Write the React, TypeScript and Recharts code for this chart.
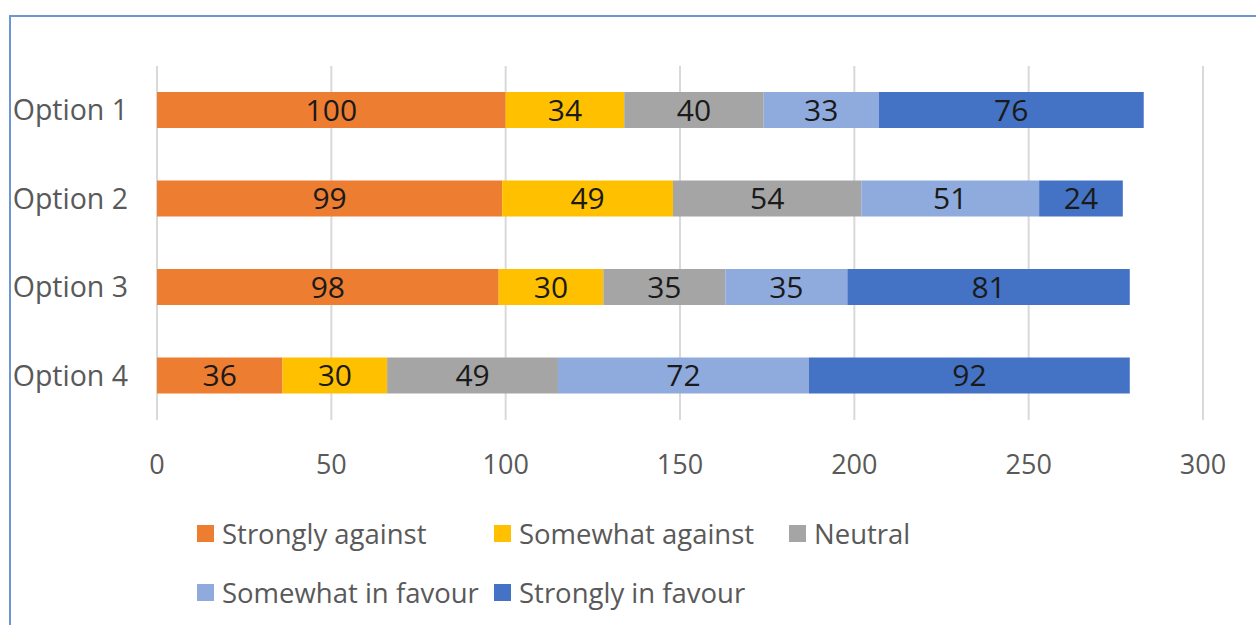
import React from "react";
import { BarChart, Bar, XAxis, YAxis, CartesianGrid, Legend, LabelList } from "recharts";

const categories = ["Option 1", "Option 2", "Option 3", "Option 4"];
const stronglyAgainst = [100, 99, 98, 36];
const somewhatAgainst = [34, 49, 30, 30];
const neutral = [40, 54, 35, 49];
const somewhatInFavour = [33, 51, 35, 72];
const stronglyInFavour = [76, 24, 81, 92];
const xTicks = [0, 50, 100, 150, 200, 250, 300];

const seriesNames = ["Strongly against", "Somewhat against", "Neutral", "Somewhat in favour", "Strongly in favour"];
const seriesKeys = ["sa", "swa", "neu", "swf", "sf"];
const seriesColors = ["#ED7D31", "#FFC000", "#A5A5A5", "#8FAADC", "#4472C4"];

const data = categories.map((c, i) => ({
  name: c,
  sa: stronglyAgainst[i],
  swa: somewhatAgainst[i],
  neu: neutral[i],
  swf: somewhatInFavour[i],
  sf: stronglyInFavour[i],
}));

const FONT = "'Open Sans', sans-serif";

const legendPositions = [
  { left: 197, top: 533 },
  { left: 494, top: 533 },
  { left: 789, top: 533 },
  { left: 197, top: 592 },
  { left: 494, top: 592 },
];

const LegendContent = () => (
  <div style={{ position: "relative", width: 1256, height: 100 }}>
    {seriesNames.map((n, i) => (
      <div
        key={n}
        style={{
          position: "absolute",
          left: legendPositions[i].left,
          top: legendPositions[i].top - 510 - 18,
          height: 36,
          display: "flex",
          alignItems: "center",
          whiteSpace: "nowrap",
          fontFamily: FONT,
          fontSize: 27.5,
          color: "#595959",
        }}
      >
        <span style={{ display: "inline-block", width: 17, height: 17, background: seriesColors[i], marginRight: 8 }} />
        <span>{n}</span>
      </div>
    ))}
  </div>
);

export default function App() {
  return (
    <div style={{ position: "absolute", left: 0, top: 0, width: 1256, height: 625, overflow: "hidden", background: "#fff" }}>
      <div
        style={{
          position: "absolute",
          left: 9,
          top: 15,
          width: 1400,
          height: 800,
          border: "2px solid #6D97D4",
          boxSizing: "border-box",
        }}
      />
      <div style={{ position: "absolute", left: 0, top: 0 }}>
        <BarChart
          width={1256}
          height={625}
          data={data}
          layout="vertical"
          margin={{ top: 66, right: 53, bottom: 145, left: 7 }}
          barSize={36}
        >
          <CartesianGrid horizontal={false} vertical={true} stroke="#D9D9D9" strokeWidth={2} />
          <XAxis
            type="number"
            domain={[0, 300]}
            ticks={xTicks}
            axisLine={false}
            tickLine={false}
            height={60}
            tickMargin={29}
            tick={{ fill: "#595959", fontSize: 27, fontFamily: FONT }}
          />
          <YAxis
            type="category"
            dataKey="name"
            width={150}
            axisLine={false}
            tickLine={false}
            tickMargin={23}
            tick={{ fill: "#595959", fontSize: 28.5, fontFamily: FONT }}
          />
          <Legend
            layout="horizontal"
            verticalAlign="middle"
            align="center"
            content={<LegendContent />}
            wrapperStyle={{ top: 510, left: 0, width: 1256 }}
          />
          {seriesKeys.map((k, i) => (
            <Bar key={k} dataKey={k} name={seriesNames[i]} stackId="a" fill={seriesColors[i]} isAnimationActive={false}>
              <LabelList dataKey={k} position="center" fill="#1A1A1A" style={{ fontSize: 30, fontFamily: FONT }} />
            </Bar>
          ))}
        </BarChart>
      </div>
    </div>
  );
}
